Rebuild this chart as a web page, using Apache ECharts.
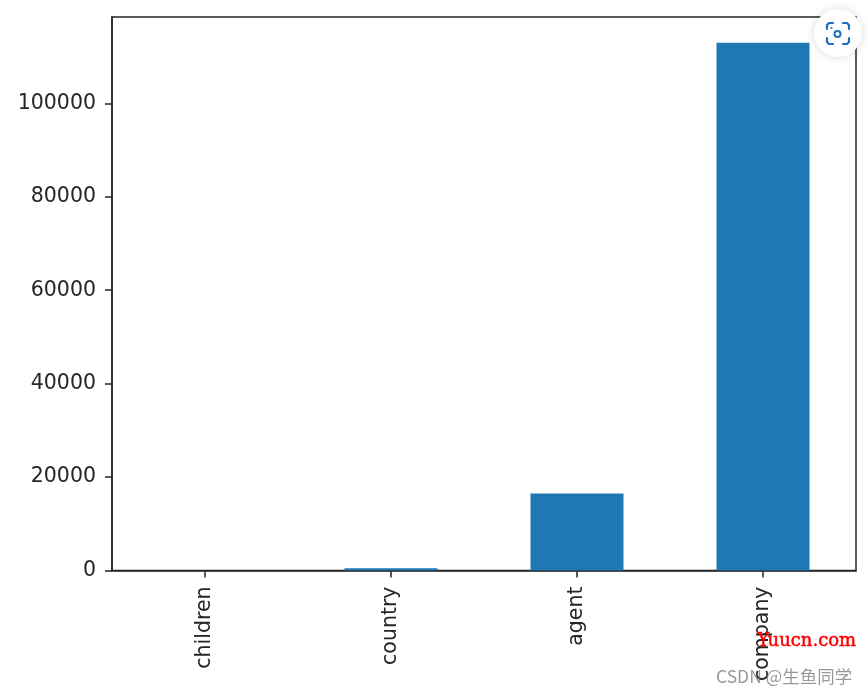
<!DOCTYPE html>
<html>
<head>
<meta charset="utf-8">
<title>chart</title>
<style>
  html, body { margin: 0; padding: 0; background: #fff; }
  #chart { width: 868px; height: 696px; }
</style>
<script src="https://cdn.jsdelivr.net/npm/echarts@6/dist/echarts.min.js"></script>
</head>
<body>
<div id="chart"></div>
<script>
const categories = ['children', 'country', 'agent', 'company'];
const missingCounts = [4, 490, 16500, 113000];
const yTicks = [0, 20000, 40000, 60000, 80000, 100000];

const AXIS_COLOR = '#262626';
const TEXT_COLOR = '#262626';
const BAR_COLOR = '#1f77b4';
const ICON_COLOR = '#1a6fc0';
const FONT = '"DejaVu Sans", sans-serif';

const chart = echarts.init(document.getElementById('chart'), null, { renderer: 'canvas' });

// one corner bracket of the lens badge
function corner(points) {
  return {
    type: 'polyline', z: 101,
    shape: { points: points },
    style: { fill: 'none', stroke: ICON_COLOR, lineWidth: 2.2, lineCap: 'round', lineJoin: 'round' }
  };
}

const option = {
  backgroundColor: '#ffffff',
  animation: false,
  grid: {
    left: 112, right: 12, top: 17, bottom: 125.5,
    show: true,
    borderColor: AXIS_COLOR,
    borderWidth: 1.5,
    backgroundColor: 'transparent'
  },
  xAxis: {
    type: 'category',
    data: categories,
    axisLine: { lineStyle: { color: AXIS_COLOR, width: 1.5 } },
    axisTick: { show: true, alignWithLabel: true, length: 7, lineStyle: { color: AXIS_COLOR, width: 1.5 } },
    axisLabel: { rotate: 90, color: TEXT_COLOR, fontSize: 20.5, fontFamily: FONT, margin: 16 }
  },
  yAxis: {
    type: 'value',
    min: 0,
    max: 118500,
    axisLine: { show: true, lineStyle: { color: AXIS_COLOR, width: 1.5 } },
    axisTick: { show: true, length: 7, customValues: yTicks, lineStyle: { color: AXIS_COLOR, width: 1.5 } },
    axisLabel: {
      color: TEXT_COLOR, fontSize: 20.5, fontFamily: FONT, margin: 16,
      customValues: yTicks,
      formatter: v => String(v)
    },
    splitLine: { show: false }
  },
  series: [
    {
      type: 'bar',
      data: missingCounts,
      barWidth: '50%',
      itemStyle: { color: BAR_COLOR }
    }
  ],
  // screenshot leftovers: lens badge and watermarks
  graphic: [
    {
      type: 'circle', z: 100,
      shape: { cx: 838, cy: 33, r: 24 },
      style: { fill: '#ffffff', shadowBlur: 8, shadowColor: 'rgba(0,0,0,0.15)' }
    },
    corner([[827, 29], [827, 25], [829, 23], [833, 23]]),
    corner([[843, 23], [847, 23], [849, 25], [849, 29]]),
    corner([[849, 38], [849, 42], [847, 44], [843, 44]]),
    corner([[833, 44], [829, 44], [827, 42], [827, 38]]),
    {
      type: 'circle', z: 101,
      shape: { cx: 837.5, cy: 34, r: 3 },
      style: { fill: 'none', stroke: ICON_COLOR, lineWidth: 2 }
    },
    {
      type: 'circle', z: 101,
      shape: { cx: 831.5, cy: 28, r: 1 },
      style: { fill: ICON_COLOR }
    },
    {
      type: 'text', z: 102, left: 757, top: 632,
      style: { text: 'Yuucn.com', fill: '#ff0000', stroke: '#ff0000', lineWidth: 0.5, font: '18px "DejaVu Serif", serif' }
    },
    {
      type: 'text', z: 102, left: 716, top: 668,
      style: { text: 'CSDN @生鱼同学', fill: 'rgba(110,110,110,0.7)', font: '17.5px "Noto Sans CJK SC", "Noto Sans", sans-serif' }
    }
  ]
};

chart.setOption(option);
window.addEventListener('resize', () => chart.resize());
</script>
</body>
</html>
